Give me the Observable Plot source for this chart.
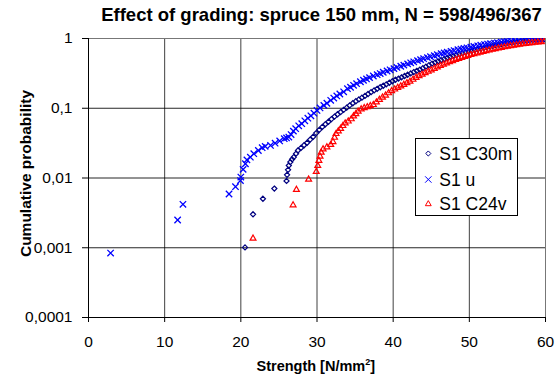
<!DOCTYPE html>
<html>
<head>
<meta charset="utf-8">
<script src="https://cdn.jsdelivr.net/npm/d3@7"></script>
<script src="https://cdn.jsdelivr.net/npm/@observablehq/plot@0.6"></script>
<style>
  html, body { margin: 0; padding: 0; background: #fff; }
  #chart { width: 555px; height: 376px; }
</style>
</head>
<body>
<div id="chart"></div>
<script>
const titleText = "Effect of grading: spruce 150 mm, N = 598/496/367";
const xLabelText = "Strength [N/mm";
const yLabelText = "Cumulative probability";
const seriesNames = ["S1 C30m", "S1 u", "S1 C24v"];
const xTicks = [0, 10, 20, 30, 40, 50, 60];
const yTicks = [0.0001, 0.001, 0.01, 0.1, 1];
const yTickLabels = ["0,0001", "0,001", "0,01", "0,1", "1"];

// S1 C30m: [strength, cumulative probability]
const c30m = [
  [20.55,0.00101],[21.6,0.00302],[22.9,0.00504],[24.4,0.00706],[26.0,0.00907],[26.07,0.0111],
  [26.2,0.0131],[26.3,0.0151],[26.5,0.0169],[26.73,0.0185],[26.94,0.0199],[27.25,0.0223],
  [27.5,0.0248],[27.9,0.027],[28.3,0.0295],[28.7,0.032],[29.1,0.0355],[29.5,0.039],[29.9,0.044],
  [30.3,0.049],[30.7,0.054],[31.1,0.059],[31.5,0.064],[31.9,0.070],[32.3,0.076],[32.7,0.082],
  [33.1,0.088],[33.5,0.095],[33.9,0.102],[34.3,0.110],[34.7,0.118],[35.1,0.126],[35.5,0.134],
  [35.9,0.142],[36.3,0.150],[36.7,0.160],[37.1,0.170],[37.5,0.180],[37.9,0.190],[38.3,0.200],
  [38.7,0.210],[39.1,0.220],[39.5,0.232],[39.9,0.244],[40.3,0.256],[40.7,0.266],[41.1,0.278],
  [41.5,0.290],[41.9,0.302],[42.3,0.316],[42.7,0.330],[43.1,0.344],[43.5,0.358],[43.9,0.375],
  [44.3,0.395],[44.7,0.415],[45.1,0.435],[45.5,0.452],[45.9,0.47],[46.3,0.488],[46.7,0.507],
  [47.1,0.527],[47.5,0.545],[47.9,0.562],[48.3,0.58],[48.7,0.598],[49.1,0.615],[49.5,0.633],
  [49.9,0.65],[50.3,0.667],[50.7,0.684],[51.1,0.70],[51.5,0.716],[51.9,0.732],[52.3,0.75],
  [52.7,0.765],[53.1,0.78],[53.5,0.795],[53.9,0.81],[54.3,0.826],[54.7,0.842],[55.1,0.86],
  [55.5,0.872],[55.9,0.885],[56.3,0.897],[56.7,0.909],[57.1,0.92],[57.5,0.932],[57.9,0.94],
  [58.3,0.95],[58.7,0.96],[59.1,0.968],[59.5,0.975],[59.9,0.982]
];

// S1 u
const s1u = [
  [2.9,0.00084],[11.7,0.0025],[12.4,0.0042],[18.45,0.0059],[19.3,0.0075],[19.95,0.0092],
  [20.0,0.0103],[20.3,0.0133],[20.6,0.016],[20.8,0.0182],[21.25,0.0199],[21.7,0.0223],
  [22.3,0.0248],[22.8,0.0272],[23.2,0.0284],[23.9,0.0293],[24.5,0.0316],[25.1,0.034],
  [25.7,0.0366],[26.0,0.0375],[26.3,0.0386],[26.6,0.042],[26.9,0.047],[27.2,0.051],
  [27.6,0.056],[28.0,0.060],[28.4,0.066],[28.8,0.072],[29.2,0.078],[29.6,0.085],[30.0,0.093],
  [30.4,0.101],[30.9,0.110],[31.3,0.118],[31.8,0.130],[32.2,0.140],[32.6,0.150],[33.0,0.160],
  [33.5,0.172],[34.0,0.191],[34.4,0.200],[34.8,0.213],[35.2,0.225],[35.7,0.240],[36.1,0.252],
  [36.5,0.263],[36.9,0.275],[37.4,0.290],[37.9,0.303],[38.3,0.314],[38.7,0.328],[39.2,0.342],
  [39.6,0.356],[40.1,0.37],[40.5,0.385],[41.0,0.40],[41.4,0.415],[41.9,0.432],[42.3,0.448],
  [42.7,0.463],[43.2,0.482],[43.6,0.498],[44.0,0.513],[44.5,0.532],[44.9,0.548],[45.4,0.568],
  [45.8,0.585],[46.3,0.605],[46.7,0.62],[47.1,0.636],[47.6,0.655],[48.0,0.672],[48.5,0.69],
  [48.9,0.705],[49.3,0.72],[49.7,0.735],[50.2,0.752],[50.6,0.768],[51.1,0.785],[51.5,0.80],
  [52.0,0.818],[52.4,0.832],[52.8,0.845],[53.3,0.86],[53.7,0.872],[54.2,0.886],[54.6,0.898],
  [55.0,0.91],[55.5,0.92],[56.0,0.93],[56.5,0.94],[57.0,0.948],[57.6,0.956],[58.1,0.964],
  [58.6,0.972],[59.0,0.978],[59.4,0.984],[59.8,0.99]
];

// S1 C24v
const c24v = [
  [21.6,0.00136],[26.86,0.00409],[27.3,0.00681],[28.9,0.00954],[29.9,0.0123],
  [30.1,0.0150],[30.25,0.0177],[30.4,0.0204],[30.55,0.0232],[30.8,0.0259],[31.3,0.0277],
  [31.8,0.030],[32.1,0.033],[32.3,0.038],[32.5,0.043],[32.8,0.047],[33.1,0.051],[33.4,0.056],
  [33.7,0.061],[34.1,0.065],[34.5,0.070],[34.8,0.077],[35.1,0.083],[35.4,0.090],[35.8,0.097],
  [36.2,0.101],[36.6,0.104],[37.0,0.108],[37.4,0.112],[37.8,0.122],[38.2,0.133],[38.6,0.143],
  [39.0,0.153],[39.4,0.165],[39.8,0.177],[40.2,0.187],[40.6,0.197],[41.0,0.207],[41.4,0.218],
  [41.8,0.23],[42.2,0.242],[42.6,0.258],[43.0,0.275],[43.4,0.29],[43.8,0.305],[44.2,0.32],
  [44.6,0.336],[45.0,0.352],[45.4,0.37],[45.8,0.388],[46.2,0.406],[46.6,0.424],[47.0,0.442],
  [47.4,0.46],[47.8,0.478],[48.2,0.496],[48.6,0.514],[49.0,0.532],[49.4,0.55],[49.8,0.567],
  [50.2,0.584],[50.6,0.60],[51.0,0.616],[51.4,0.632],[51.8,0.648],[52.2,0.664],[52.6,0.68],
  [53.0,0.695],[53.4,0.71],[53.8,0.725],[54.2,0.74],[54.6,0.755],[55.0,0.77],[55.4,0.784],
  [55.8,0.798],[56.2,0.81],[56.6,0.822],[57.0,0.834],[57.4,0.845],[57.8,0.856],[58.2,0.866],
  [58.6,0.876],[59.0,0.886],[59.4,0.895],[59.8,0.905]
];

const colors = ["#000080", "#0000FF", "#FF0000"];
const symbols = ["diamond2", "times", "triangle2"];
const radii = [2.3, 3, 2.8];
const widths = [1.2, 1.3, 1.2];

const FONT = "'Liberation Sans', Arial, Helvetica, sans-serif";
const yLabelMap = new Map(yTicks.map((t, i) => [t, yTickLabels[i]]));

const plot = Plot.plot({
  width: 555,
  height: 376,
  marginTop: 38,
  marginBottom: 59,
  marginLeft: 88,
  marginRight: 10,
  style: { fontFamily: FONT, fontSize: "15.5px", background: "#fff", color: "#000", overflow: "visible" },
  x: { domain: [0, 60] },
  y: { type: "log", domain: [0.0001, 1] },
  marks: [
    Plot.gridX(xTicks, { stroke: "#000", strokeOpacity: 0.75, strokeWidth: 1 }),
    Plot.gridY(yTicks, { stroke: "#000", strokeOpacity: 0.85, strokeWidth: 1 }),
    Plot.frame({ stroke: "#777", strokeWidth: 1 }),
    Plot.ruleX([0], { stroke: "#000", strokeWidth: 1 }),
    Plot.ruleY([0.0001], { stroke: "#000", strokeWidth: 1 }),
    Plot.axisX({ ticks: xTicks, tickSize: 5, tickPadding: 13, label: null, fontSize: 15.5, tickFormat: d => String(d) }),
    Plot.axisY({ ticks: yTicks, tickSize: 6, tickPadding: 10, label: null, fontSize: 15.5, tickFormat: d => yLabelMap.get(d) }),
    Plot.dot(c30m, { x: d => d[0], y: d => d[1], symbol: symbols[0], r: radii[0], stroke: colors[0], fill: "none", strokeWidth: widths[0], clip: true }),
    Plot.dot(s1u, { x: d => d[0], y: d => d[1], symbol: symbols[1], r: radii[1], stroke: colors[1], fill: "none", strokeWidth: widths[1], clip: true }),
    Plot.dot(c24v, { x: d => d[0], y: d => d[1], symbol: symbols[2], r: radii[2], stroke: colors[2], fill: "none", strokeWidth: widths[2], clip: true })
  ]
});

document.getElementById("chart").appendChild(plot);
const svg = d3.select(plot);

// Title
svg.append("text")
  .attr("x", 321.5).attr("y", 21.3)
  .attr("text-anchor", "middle")
  .style("font-family", FONT).style("font-weight", "bold").style("font-size", "18.5px")
  .attr("fill", "#000")
  .text(titleText);

// Y axis label
svg.append("text")
  .attr("transform", "translate(31,173.5) rotate(-90)")
  .attr("text-anchor", "middle")
  .style("font-family", FONT).style("font-weight", "bold").style("font-size", "15.5px")
  .attr("fill", "#000")
  .text(yLabelText);

// X axis label
const xl = svg.append("text")
  .attr("x", 315.8).attr("y", 370.7)
  .attr("text-anchor", "middle")
  .style("font-family", FONT).style("font-weight", "bold").style("font-size", "14.5px")
  .attr("fill", "#000");
xl.append("tspan").text(xLabelText);
xl.append("tspan").attr("dy", -6).style("font-size", "9px").text("2");
xl.append("tspan").attr("dy", 6).text("]");

// Legend
const lg = svg.append("g").attr("text-anchor", "start");
lg.append("rect")
  .attr("x", 415.5).attr("y", 138.5).attr("width", 102).attr("height", 77)
  .attr("fill", "#fff").attr("stroke", "#000").attr("stroke-width", 1);
const d3syms = [d3.symbolDiamond2, d3.symbolTimes, d3.symbolTriangle2];
const rowY = [153.5, 179.5, 204];
seriesNames.forEach((name, i) => {
  lg.append("path")
    .attr("transform", `translate(428.3,${rowY[i]})`)
    .attr("d", d3.symbol(d3syms[i], radii[i] * radii[i] * Math.PI)())
    .attr("fill", "none").attr("stroke", colors[i]).attr("stroke-width", 1);
  lg.append("text")
    .attr("x", 439.3).attr("y", rowY[i] + 6)
    .attr("text-anchor", "start")
    .style("font-family", FONT).style("font-size", "17.5px")
    .attr("fill", "#000")
    .text(name);
});
</script>
</body>
</html>
